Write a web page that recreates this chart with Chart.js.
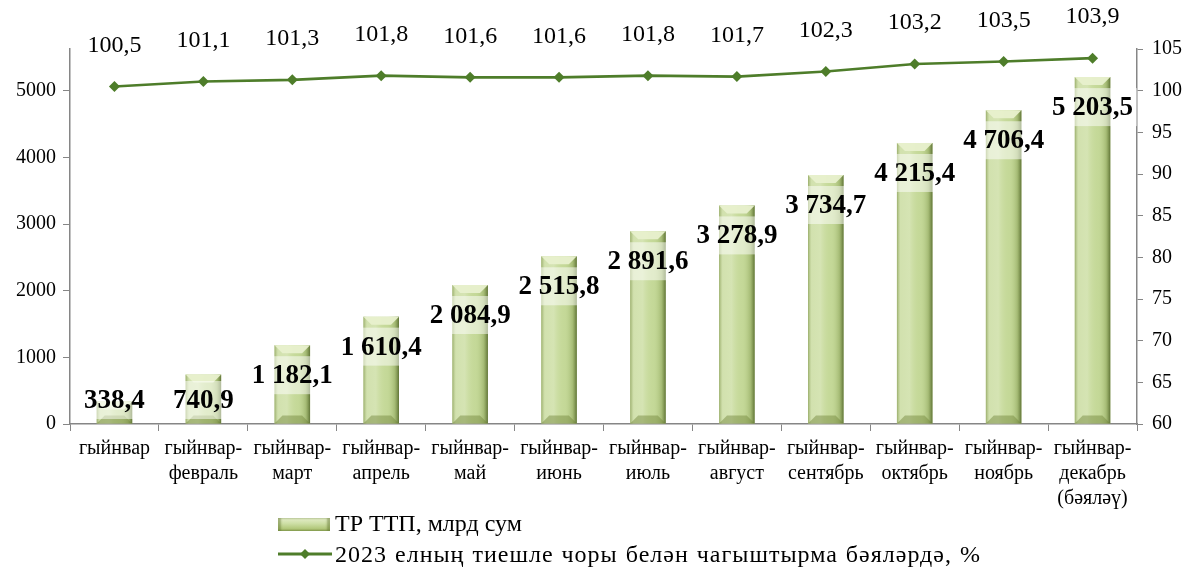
<!DOCTYPE html>
<html>
<head>
<meta charset="utf-8">
<script src="https://cdn.jsdelivr.net/npm/chart.js@4"></script>
<style>
  html,body{margin:0;padding:0;background:#fff;}
  #wrap{position:relative;width:1198px;height:574px;}
  #c{position:absolute;left:0;top:0;}
  .lg{position:absolute;font-family:"Liberation Serif","Times New Roman",serif;font-size:24px;color:#000;white-space:nowrap;line-height:26px;}
  .ico-bar{position:absolute;width:52px;height:13px;
    background:linear-gradient(to bottom,#e4edca 0%,#cfe0a8 40%,#b3c97d 80%,#93ab5d 100%);
    box-shadow: inset 3px 0 2px rgba(90,110,40,0.45), inset -3px 0 2px rgba(90,110,40,0.45);}
</style>
</head>
<body>
<div id="wrap">
<canvas id="c" width="1198" height="574"></canvas>
<div class="ico-bar" style="left:278px;top:518px;"></div>
<div class="lg" style="left:335px;top:510px;">ТР ТТП, млрд сум</div>
<svg style="position:absolute;left:276px;top:546px;" width="58" height="16">
  <line x1="2" y1="8" x2="56" y2="8" stroke="#4e7d2a" stroke-width="3"/>
  <polygon points="29,3 34,8 29,13 24,8" fill="#4e7d2a"/>
</svg>
<div class="lg" style="left:335px;top:541px;letter-spacing:1px;word-spacing:1px;">2023 елның тиешле чоры белән чагыштырма бәяләрдә, %</div>
</div>
<script>
const categories = [
  ['гыйнвар'],
  ['гыйнвар-','февраль'],
  ['гыйнвар-','март'],
  ['гыйнвар-','апрель'],
  ['гыйнвар-','май'],
  ['гыйнвар-','июнь'],
  ['гыйнвар-','июль'],
  ['гыйнвар-','август'],
  ['гыйнвар-','сентябрь'],
  ['гыйнвар-','октябрь'],
  ['гыйнвар-','ноябрь'],
  ['гыйнвар-','декабрь','(бәяләү)']
];
const grpValues = [338.4, 740.9, 1182.1, 1610.4, 2084.9, 2515.8, 2891.6, 3278.9, 3734.7, 4215.4, 4706.4, 5203.5];
const indexValues = [100.5, 101.1, 101.3, 101.8, 101.6, 101.6, 101.8, 101.7, 102.3, 103.2, 103.5, 103.9];
const leftTicks = [0, 1000, 2000, 3000, 4000, 5000];
const rightTicks = [60, 65, 70, 75, 80, 85, 90, 95, 100, 105];

const FONT = '"Liberation Serif","Times New Roman",serif';
const AXIS = '#868686';
const LINE = '#4e7d2a';

function fmt(n){
  const parts = n.toFixed(1).split('.');
  return parts[0].replace(/\B(?=(\d{3})+(?!\d))/g,' ') + ',' + parts[1];
}

const barStyle = {
  id:'barStyle',
  afterDatasetDraw(chart, args){
    if(args.index !== 0) return;
    const ctx = chart.ctx;
    const meta = chart.getDatasetMeta(0);
    meta.data.forEach(el=>{
      const w = el.width, x0 = el.x - w/2, x1 = el.x + w/2, top = el.y, bot = el.base;
      ctx.save();
      const g = ctx.createLinearGradient(x0,0,x1,0);
      g.addColorStop(0,'rgba(120,140,70,0.55)');
      g.addColorStop(0.1,'rgba(235,242,215,0.35)');
      g.addColorStop(0.35,'rgba(245,250,230,0.35)');
      g.addColorStop(0.65,'rgba(200,220,150,0.05)');
      g.addColorStop(0.88,'rgba(110,135,55,0.35)');
      g.addColorStop(1,'rgba(70,90,30,0.8)');
      ctx.fillStyle = g;
      ctx.fillRect(x0, top, w, bot-top);
      const cap = Math.min(8, (bot-top)/2);
      ctx.beginPath();
      ctx.moveTo(x0, top); ctx.lineTo(x1, top); ctx.lineTo(x1-cap, top+cap); ctx.lineTo(x0+cap, top+cap); ctx.closePath();
      ctx.fillStyle = 'rgba(232,240,205,0.95)';
      ctx.fill();
      ctx.beginPath();
      ctx.moveTo(x0, bot); ctx.lineTo(x1, bot); ctx.lineTo(x1-cap, bot-cap); ctx.lineTo(x0+cap, bot-cap); ctx.closePath();
      ctx.fillStyle = 'rgba(110,130,55,0.45)';
      ctx.fill();
      ctx.restore();
    });
  }
};

const labels = {
  id:'labels',
  afterDatasetsDraw(chart){
    const ctx = chart.ctx;
    ctx.save();
    ctx.font = 'bold 27px ' + FONT;
    ctx.textAlign = 'center';
    ctx.textBaseline = 'middle';
    const bm = chart.getDatasetMeta(0);
    bm.data.forEach((el,i)=>{
      const t = fmt(grpValues[i]);
      const y = Math.min(el.y + 30, 400);
      const tw = ctx.measureText(t).width;
      ctx.fillStyle = 'rgba(255,255,255,0.5)';
      ctx.fillRect(el.x - tw/2 - 4, y - 19, tw + 8, 38);
      ctx.fillStyle = '#000';
      ctx.fillText(t, el.x, y+1);
    });
    ctx.font = '24px ' + FONT;
    const lm = chart.getDatasetMeta(1);
    lm.data.forEach((el,i)=>{
      ctx.fillStyle = '#000';
      ctx.fillText(fmt(indexValues[i]), el.x, el.y - 41);
    });
    ctx.restore();
  }
};

new Chart(document.getElementById('c'), {
  data:{
    labels: categories,
    datasets:[
      {type:'bar', label:'ТР ТТП, млрд сум', data:grpValues, yAxisID:'y',
       backgroundColor:'#c4d898', borderWidth:0, barPercentage:0.4, categoryPercentage:1, order:2},
      {type:'line', label:'2023 елның тиешле чоры белән чагыштырма бәяләрдә, %', data:indexValues, yAxisID:'y1',
       borderColor:LINE, backgroundColor:LINE, borderWidth:2.75, pointStyle:'rectRot', pointRadius:5.5,
       pointBorderWidth:0, pointBackgroundColor:LINE, tension:0, order:1}
    ]
  },
  options:{
    responsive:false,
    animation:false,
    devicePixelRatio:1,
    layout:{padding:{top:49,left:0,right:0,bottom:0}},
    plugins:{legend:{display:false}, tooltip:{enabled:false}},
    scales:{
      x:{
        offset:true,
        grid:{drawOnChartArea:false, drawTicks:true, tickLength:7, color:AXIS, offset:true},
        border:{color:AXIS, width:1.5},
        ticks:{font:{family:FONT,size:20,lineHeight:1.25}, color:'#000', padding:5, maxRotation:0, autoSkip:false},
        afterFit(s){ s.height = 150; }
      },
      y:{
        position:'left', min:0, max:5625,
        grid:{drawOnChartArea:false, drawTicks:true, tickLength:7, color:AXIS},
        border:{color:AXIS, width:1.5},
        ticks:{font:{family:FONT,size:20}, color:'#000', padding:7, callback:v=>String(v)},
        afterBuildTicks(s){ s.ticks = leftTicks.map(v=>({value:v})); },
        afterFit(s){ s.width = 70; }
      },
      y1:{
        position:'right', min:60, max:105,
        grid:{drawOnChartArea:false, drawTicks:true, tickLength:6, color:AXIS},
        border:{color:AXIS, width:1.5},
        ticks:{font:{family:FONT,size:20}, color:'#000', padding:9, callback:v=>String(v)},
        afterBuildTicks(s){ s.ticks = rightTicks.map(v=>({value:v})); },
        afterFit(s){ s.width = 61; }
      }
    }
  },
  plugins:[barStyle, labels]
});
</script>
</body>
</html>
